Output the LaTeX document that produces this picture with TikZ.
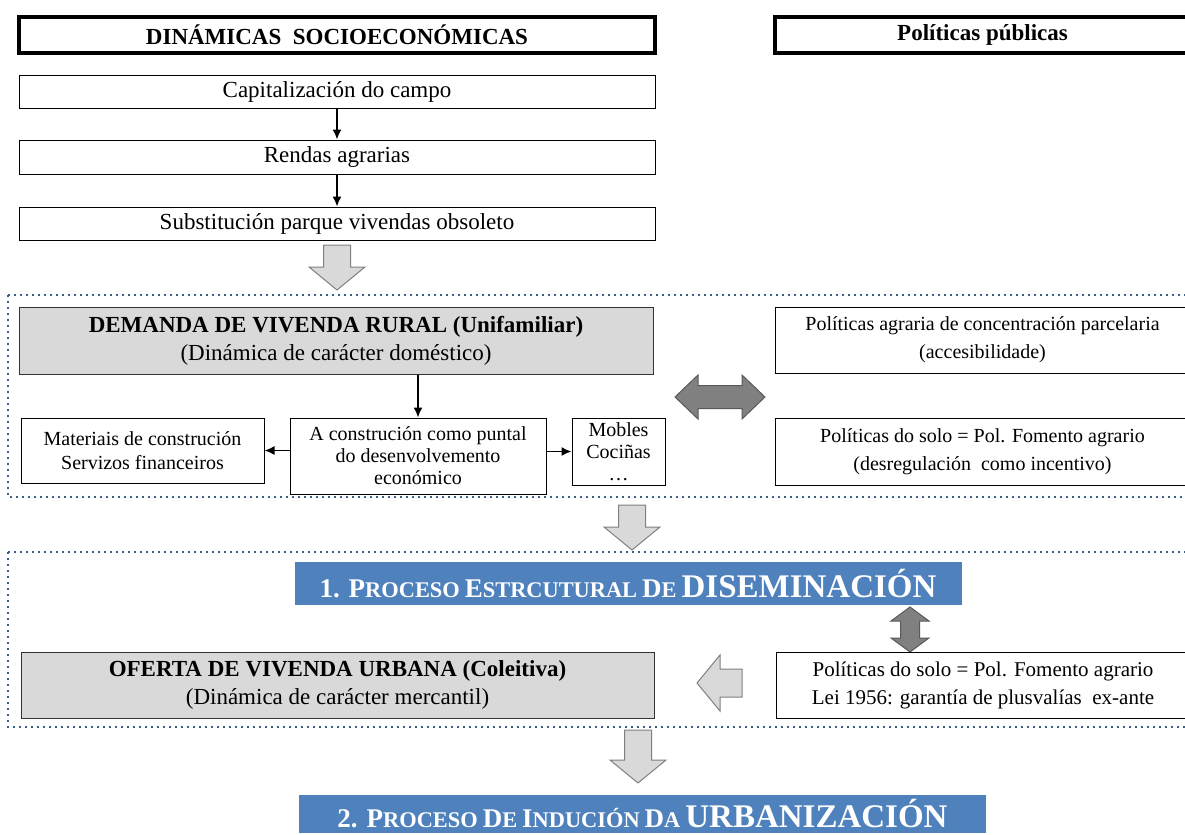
\documentclass[tikz,border=0pt]{standalone}
\usepackage{fontspec}
\setmainfont{Liberation Serif}
\usetikzlibrary{calc,arrows.meta}
\definecolor{bannerblue}{HTML}{4F81BD}
\definecolor{boxgray}{HTML}{D9D9D9}
\definecolor{arrowgray}{HTML}{808080}
\definecolor{dotblue}{HTML}{3A5F8F}
\newcommand{\sz}[2]{\fontsize{#1}{#2}\selectfont}
\newcommand{\bsc}[2]{{\sz{13.5}{16}#1}{\sz{11.2}{16}#2}}
\newcommand{\downblock}[3]{\draw[lightarrow] (#1-13.5,#2) -- (#1+13.5,#2) -- (#1+13.5,#3-23) -- (#1+28,#3-23) -- (#1,#3) -- (#1-28,#3-23) -- (#1-13.5,#3-23) -- cycle;}

\begin{document}
\begin{tikzpicture}[x=0.5pt,y=-0.5pt,
  box/.style={draw=black, line width=0.5pt, inner sep=0pt, align=center},
  hdbox/.style={draw=black, line width=1.6pt, inner sep=0pt, font=\bfseries\sz{11.5}{13}},
  graybox/.style={box, fill=boxgray, draw=black!80},
  banner/.style={fill=bannerblue, text=white, inner sep=0pt, font=\bfseries},
  lightarrow/.style={fill=boxgray, draw=arrowgray, line width=0.5pt},
  darkarrow/.style={fill=arrowgray, draw=black!65, line width=0.5pt},
  region/.style={draw=dotblue, line width=1pt, dotted},
  link/.style={-{Latex[length=5pt,width=4.5pt]}, line width=0.75pt}]
\clip (0,0) rectangle (1185,835);
% headers
\node (hdl) at (337,35) [hdbox, minimum width=318pt, minimum height=18pt] {DINÁMICAS\ \ SOCIOECONÓMICAS};
\node (hdr) at (982.5,35) [hdbox, minimum width=207.5pt, minimum height=18pt] {Políticas públicas};
% socioeconomic chain
\node (cap) at (337,91.5) [box, font=\sz{11.5}{14}, minimum width=318pt, minimum height=16.5pt] {Capitalización do campo};
\node (rend) at (337,157) [box, font=\sz{11.5}{14}, minimum width=318pt, minimum height=17pt] {Rendas agrarias};
\node (subs) at (337,223.5) [box, font=\sz{11.5}{14}, minimum width=318pt, minimum height=16.5pt] {Substitución parque vivendas obsoleto};
\draw[link] (cap.south) -- (rend.north);
\draw[link] (rend.south) -- (subs.north);
% dotted regions
\draw[region] (8,295) rectangle (1190,497);
\draw[region] (8,552) rectangle (1190,727);
\downblock{337}{245}{290}
% rural demand
\node (dem) at (336,340.5) [graybox, font=\sz{11.5}{14}, minimum width=317pt, minimum height=33.5pt] {\textbf{DEMANDA DE VIVENDA RURAL (Unifamiliar)}\\(Dinámica de carácter doméstico)};
\node (pa1) at (982.5,340) [box, font=\sz{10}{14}, minimum width=207.5pt, minimum height=33pt] {Políticas agraria de concentración parcelaria\\(accesibilidade)};
\draw[darkarrow] (675,397) -- (698,375) -- (698,385.5) -- (742,385.5) -- (742,375) -- (765,397) -- (742,419) -- (742,408.5) -- (698,408.5) -- (698,419) -- cycle;
\node (mat) at (142.5,450.5) [box, font=\sz{10}{12}, minimum width=121.5pt, minimum height=32.5pt] {Materiais de construción\\Servizos financeiros};
\node (acon) at (418,456) [box, font=\sz{10}{11}, minimum width=128pt, minimum height=38pt] {A construción como puntal\\do desenvolvemento\\económico};
\node (mob) at (618.5,451.5) [box, font=\sz{10}{11}, minimum width=46.5pt, minimum height=33.5pt] {Mobles\\Cociñas\\\dots};
\node (pa2) at (982.5,451.5) [box, font=\sz{10}{14}, minimum width=207.5pt, minimum height=33.5pt] {Políticas do solo = Pol. Fomento agrario\\(desregulación\ \ como incentivo)};
\draw[link] (dem.south -| acon.north) -- (acon.north);
\draw[link] (mat.east -| acon.west) -- (mat.east);
\draw[link] (mob.west -| acon.east) -- (mob.west);
% dissemination
\downblock{632}{505}{550}
\node (ban1) at (628,583.5) [banner, minimum width=333.5pt, minimum height=21.5pt] {\bsc{1. P}{ROCESO} \bsc{E}{STRCUTURAL} \bsc{D}{E} {\sz{16.5}{18}DISEMINACIÓN}};
\draw[darkarrow] (910,607) -- (929,621) -- (919.5,621) -- (919.5,638) -- (929,638) -- (910,652) -- (891,638) -- (900.5,638) -- (900.5,621) -- (891,621) -- cycle;
\node (ofe) at (337.5,685) [graybox, font=\sz{11.5}{14}, minimum width=316.5pt, minimum height=33pt] {\textbf{OFERTA DE VIVENDA URBANA (Coleitiva)}\\(Dinámica de carácter mercantil)};
\node (ps) at (983,685) [box, font=\sz{10.5}{14}, minimum width=207pt, minimum height=33pt] {Políticas do solo = Pol. Fomento agrario\\Lei 1956: garantía de plusvalías\ \ ex-ante};
\draw[lightarrow] (697,683) -- (720,655) -- (720,669) -- (742,669) -- (742,697) -- (720,697) -- (720,711) -- cycle;
% urbanisation
\downblock{638}{730}{783}
\node (ban2) at (642.5,814) [banner, minimum width=343.5pt, minimum height=19pt] {\bsc{2. P}{ROCESO} \bsc{D}{E} \bsc{I}{NDUCIÓN} \bsc{D}{A} {\sz{16.5}{18}URBANIZACIÓN}};
\end{tikzpicture}
\end{document}
